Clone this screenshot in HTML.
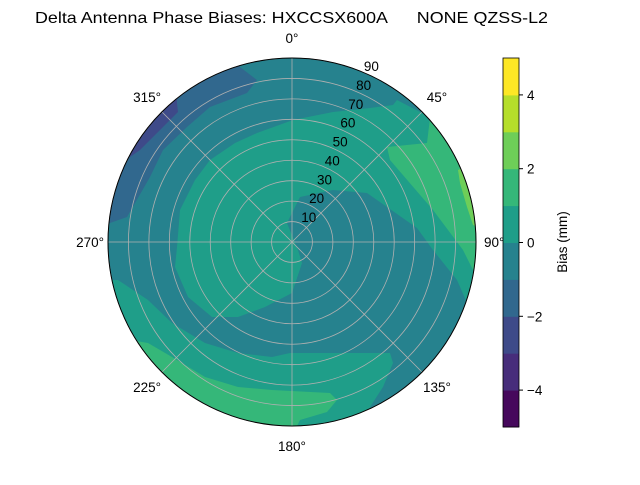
<!DOCTYPE html>
<html><head><meta charset="utf-8"><style>
body{margin:0;background:#fff;width:640px;height:480px;overflow:hidden;font-family:"Liberation Sans",sans-serif}
</style></head><body>
<svg id="c" width="640" height="480" xmlns="http://www.w3.org/2000/svg" font-family="Liberation Sans, sans-serif">
<defs><clipPath id="cp"><circle cx="292" cy="242" r="184"/></clipPath></defs>
<text x="35" y="23" font-size="16" textLength="513" lengthAdjust="spacingAndGlyphs" xml:space="preserve">Delta Antenna Phase Biases: HXCCSX600A      NONE QZSS-L2</text>
<g id="plot" clip-path="url(#cp)"></g>
<g id="grid"></g>
<circle cx="292" cy="242" r="184" fill="none" stroke="#000" stroke-width="1"/>
<g id="labels" font-size="13.5"></g>
<g id="cbar"></g>
<text x="567" y="242" font-size="13.5" text-anchor="middle" transform="rotate(-90 567 242)">Bias (mm)</text>
</svg>
<script>
const levels=[-5,-4,-3,-2,-1,0,1,2,3,4,5];
const levelColors=["#46085c","#472d7b","#3e4a89","#31688e","#26828e","#1f9e89","#35b779","#6ece58","#b5de2b","#fde725"];
const cbarTicks=[-4,-2,0,2,4];
const rTicks=[10,20,30,40,50,60,70,80,90];
const thetaTicks=[0,45,90,135,180,225,270,315];
// contour regions: [level index, polygon points]
const regions=[
 [4,"100,50 480,50 480,440 100,440"],
 [5,"177,247 180,210 195,180 210,160 235,143 257,133 293,120 333,112 370,108 393,105 397,100 420,112 432,118 480,118 480,310 470,307 467,303 457,280 433,250 417,228 367,193 333,190 300,197 287,223 298,250 302,263 292,293 265,307 238,317 212,317 188,297 175,267"],
 [5,"100,280 118,280 148,300 172,323 205,343 238,353 272,357 290,353 390,353 393,363 383,387 370,407 367,440 100,440"],
 [6,"100,335 148,343 172,357 205,377 238,387 272,390 330,393 337,400 327,412 300,420 290,440 100,440"],
 [6,"387,147 427,143 430,118 480,118 480,280 473,270 463,250 433,210 390,160"],
 [7,"458,170 460,183 467,207 473,225 480,228 480,160"],
 [3,"240,50 240,67 257,80 247,93 210,107 187,127 163,150 150,177 127,217 110,223 100,230 100,50"],
 [2,"177,90 177,103 178,112 157,133 140,150 130,157 100,160 100,90"]
];
const NS="http://www.w3.org/2000/svg";
const cx=292,cy=242,R=184,rMax=90;
const rs=v=>v/rMax*R;
function mk(t,a,p){const e=document.createElementNS(NS,t);for(const k in a)e.setAttribute(k,a[k]);p.appendChild(e);return e;}
const plot=document.getElementById('plot');
regions.forEach(([li,pts],i)=>{
 const e=mk('polygon',{points:pts,fill:levelColors[li]},plot);
 
 
});
const grid=document.getElementById('grid');
rTicks.forEach(v=>{
 const e=mk('circle',{cx:cx,cy:cy,r:rs(v),fill:'none',stroke:'#b0b0b0','stroke-width':0.8},grid);
 
 
});
thetaTicks.forEach(t=>{
 const a=t*Math.PI/180;
 const e=mk('line',{x1:cx,y1:cy,x2:cx+R*Math.sin(a),y2:cy-R*Math.cos(a),stroke:'#b0b0b0','stroke-width':0.8},grid);
 
 
});
const lab=document.getElementById('labels');
thetaTicks.forEach(t=>{
 const a=t*Math.PI/180;
 const d=(t%90==0)?204:205;
 let x=cx+d*Math.sin(a),anchor='middle';
 if(t==90){x=484;anchor='start';}
 if(t==270){x=104;anchor='end';}
 const e=mk('text',{x:x,y:cy-d*Math.cos(a)+5,'text-anchor':anchor},lab);
 e.textContent=t+'°';
 
 
});
rTicks.forEach(v=>{
 const a=22.5*Math.PI/180,d=rs(v);
 const e=mk('text',{x:cx+d*Math.sin(a)+9,y:cy-d*Math.cos(a)-1,'text-anchor':'middle'},lab);
 e.textContent=v;
 
 
});
const cb=document.getElementById('cbar');
const cbX=503,cbW=16,cbTop=58,cbBot=427;
const cy2=v=>cbBot-(v-levels[0])/(levels[levels.length-1]-levels[0])*(cbBot-cbTop);
levelColors.forEach((c,i)=>{
 const e=mk('rect',{x:cbX,y:cy2(levels[i+1]),width:cbW,height:cy2(levels[i])-cy2(levels[i+1])+0.5,fill:c},cb);
 
 
});
mk('rect',{x:cbX,y:cbTop,width:cbW,height:cbBot-cbTop,fill:'none',stroke:'#000','stroke-width':0.8},cb);
cbarTicks.forEach(v=>{
 const y=cy2(v);
 mk('line',{x1:cbX+cbW,y1:y,x2:cbX+cbW+4,y2:y,stroke:'#000'},cb);
 const e=mk('text',{x:cbX+cbW+8,y:y+5,'font-size':13.5},cb);
 e.textContent=v<0?'\u2212'+(-v):v;
 
 
});
</script>
</body></html>
